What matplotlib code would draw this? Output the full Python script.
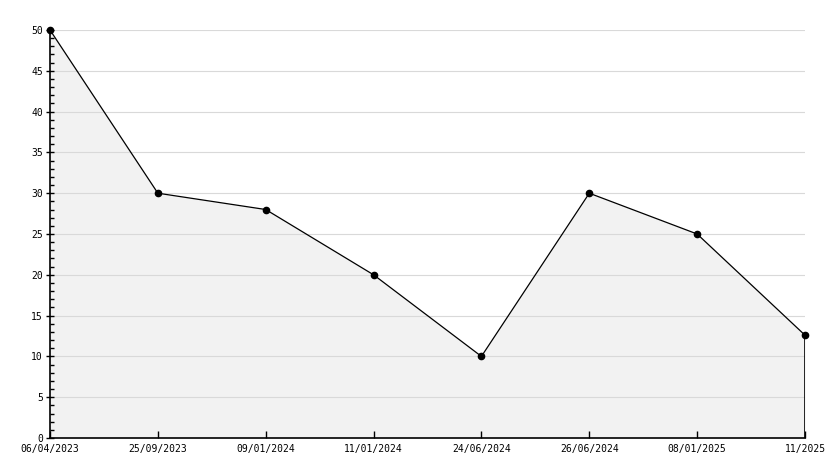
import matplotlib
matplotlib.use("Agg")
import matplotlib.pyplot as plt
from matplotlib.ticker import MultipleLocator

labels = ["06/04/2023", "25/09/2023", "09/01/2024", "11/01/2024",
          "24/06/2024", "26/06/2024", "08/01/2025", "11/2025"]
values = [50, 30, 28, 20, 10, 30, 25, 12.6]

fig = plt.figure(figsize=(8.34, 4.68), dpi=100)
ax = fig.add_axes([50 / 834, 30 / 468, 755 / 834, 408 / 468])

x = list(range(len(labels)))
ax.fill_between(x, values, 0, color="#f2f2f2", linewidth=0, zorder=1)
ax.plot(x, values, color="black", linewidth=0.9, marker="o", markersize=4.5,
        zorder=3, clip_on=False)
# closing edge at the right end
ax.plot([x[-1], x[-1]], [0, values[-1]], color="black", linewidth=1.2, zorder=3)

ax.set_xlim(0, len(labels) - 1)
ax.set_ylim(0, 50)
ax.set_xticks(x)
ax.set_xticklabels(labels)
ax.yaxis.set_major_locator(MultipleLocator(5))
ax.yaxis.set_minor_locator(MultipleLocator(1))
ax.grid(axis="y", which="major", color="#d9d9d9", linewidth=0.8, zorder=0)

for s in ["top", "right"]:
    ax.spines[s].set_visible(False)
for s in ["left", "bottom"]:
    ax.spines[s].set_linewidth(1.2)
    ax.spines[s].set_zorder(4)

ax.tick_params(axis="y", which="major", direction="inout", length=6, width=1, labelsize=7, pad=2)
ax.tick_params(axis="y", which="minor", direction="in", length=3, width=1)
ax.tick_params(axis="x", direction="in", length=5, width=1, labelsize=7, pad=4)
for t in ax.get_xticklabels() + ax.get_yticklabels():
    t.set_family("DejaVu Sans Mono")
ax.get_yticklabels()[0].set_va("bottom")

fig.savefig("out.png", dpi=100, facecolor="white")
